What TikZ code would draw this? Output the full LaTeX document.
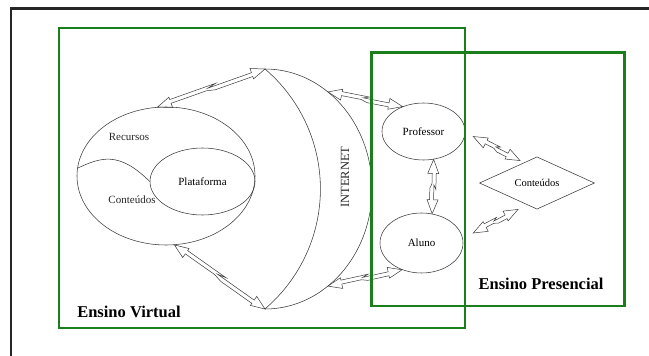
\documentclass[tikz,border=0pt]{standalone}
\usepackage{fontspec}
\setmainfont{Liberation Serif}
\usepackage{xcolor}
\usepackage{tikz}
\usetikzlibrary{calc,shapes.geometric}
\definecolor{egreen}{HTML}{1A7F1A}
\definecolor{eline}{HTML}{3A3A3A}
\tikzset{
  eframe/.style={black!85, line width=2.8pt},
  ezone/.style={draw=egreen, line width=2.4pt},
  ebubble/.style={ellipse, draw=eline, line width=0.55pt, inner sep=0pt,
                  font=\fontsize{11}{13}\selectfont},
  elbl/.style={text=black!85, font=\fontsize{11}{13}\selectfont},
  etitle/.style={font=\fontsize{16.5}{19}\selectfont\bfseries},
  elink/.style={draw=eline, line width=0.5pt, line join=miter,
    to path={
      (\tikztostart)
      -- ($(\tikztostart)!14pt!(\tikztotarget)!5.5pt!90:(\tikztotarget)$)
      -- ($(\tikztostart)!14pt!(\tikztotarget)!3pt!90:(\tikztotarget)$)
      -- ($(\tikztostart)!.55!(\tikztotarget)!3pt!90:(\tikztotarget)$)
      -- ($(\tikztostart)!.47!(\tikztotarget)!1pt!90:(\tikztotarget)$)
      -- ($(\tikztotarget)!14pt!(\tikztostart)!1pt!270:(\tikztostart)$)
      -- ($(\tikztotarget)!14pt!(\tikztostart)!5.5pt!270:(\tikztostart)$)
      -- (\tikztotarget)
      -- ($(\tikztotarget)!14pt!(\tikztostart)!5.5pt!90:(\tikztostart)$)
      -- ($(\tikztotarget)!14pt!(\tikztostart)!3pt!90:(\tikztostart)$)
      -- ($(\tikztostart)!.53!(\tikztotarget)!3pt!270:(\tikztotarget)$)
      -- ($(\tikztostart)!.45!(\tikztotarget)!1pt!270:(\tikztotarget)$)
      -- ($(\tikztostart)!14pt!(\tikztotarget)!1pt!270:(\tikztotarget)$)
      -- ($(\tikztostart)!14pt!(\tikztotarget)!5.5pt!270:(\tikztotarget)$)
      -- cycle}},
}

\begin{document}
\begin{tikzpicture}[x=1pt, y=1pt]
  \useasboundingbox (0,0) rectangle (649,-356);

  % moldura
  \draw[eframe] (11,-356) -- (11,-8.5) -- (649,-8.5);

  % recursos / plataforma
  \node[ebubble, minimum width=178pt, minimum height=138pt] (rec) at (166,-176) {};
  \node[ebubble, minimum width=105pt, minimum height=67pt] (plat) at (202.5,-181.5) {Plataforma};
  \draw[eline, line width=0.55pt] (rec.175) .. controls (100,-158) and (118,-150) .. (plat.west);
  \node[elbl] (recl) at (129,-137) {Recursos};
  \node[elbl] (conl) at (132,-200) {Conteúdos};

  % internet
  \coordinate (itop) at (265,-69);
  \coordinate (ibot) at (265,-309);
  \coordinate (ictr) at (265,-189);
  \draw[eline, line width=0.55pt] (itop) arc[start angle=90, end angle=-90, x radius=107pt, y radius=120pt];
  \draw[eline, line width=0.55pt] (itop) arc[start angle=49.6, end angle=-49.6, radius=157.5pt];
  \coordinate (inetN) at ($(ictr)+(54:107pt and 120pt)$);
  \coordinate (inetS) at ($(ictr)+(-54:107pt and 120pt)$);
  \node[elbl, rotate=90, font=\fontsize{12.5}{14}\selectfont] (inetl) at (345,-177) {INTERNET};

  % professor, aluno, conteudos
  \node[ebubble, minimum width=83pt, minimum height=57pt] (prof) at (423.5,-131.5) {Professor};
  \node[ebubble, minimum width=83pt, minimum height=60pt] (aluno) at (421.5,-243) {Aluno};
  \node[diamond, draw=eline, line width=0.55pt, inner sep=0pt, minimum width=115pt,
        minimum height=40pt, font=\fontsize{10.5}{12}\selectfont] (cont) at (537,-183) {Conteúdos};
  \coordinate (profR) at ($(prof.east)+(8,-5)$);
  \coordinate (alunoR) at ($(aluno.east)+(10,10)$);
  \coordinate (contN) at ($(cont.north)+(-17,-4)$);
  \coordinate (contS) at ($(cont.south)+(-19,0)$);

  % ligacoes
  \draw[elink] (rec.97) to (itop);
  \draw[elink] (rec.277) to (ibot);
  \draw[elink] (inetN) to (prof.130);
  \draw[elink] (inetS) to (aluno.234);
  \draw[elink] (prof.290) to (aluno.70);
  \draw[elink] (profR) to (contN);
  \draw[elink] (alunoR) to (contS);

  % zonas
  \draw[ezone] (59,-28) rectangle (465,-328);
  \draw[ezone] (371.5,-52.5) rectangle (624.5,-306);
  \node[etitle] (virt) at (129,-312) {Ensino Virtual};
  \node[etitle] (pres) at (541,-283.5) {Ensino Presencial};
\end{tikzpicture}
\end{document}
